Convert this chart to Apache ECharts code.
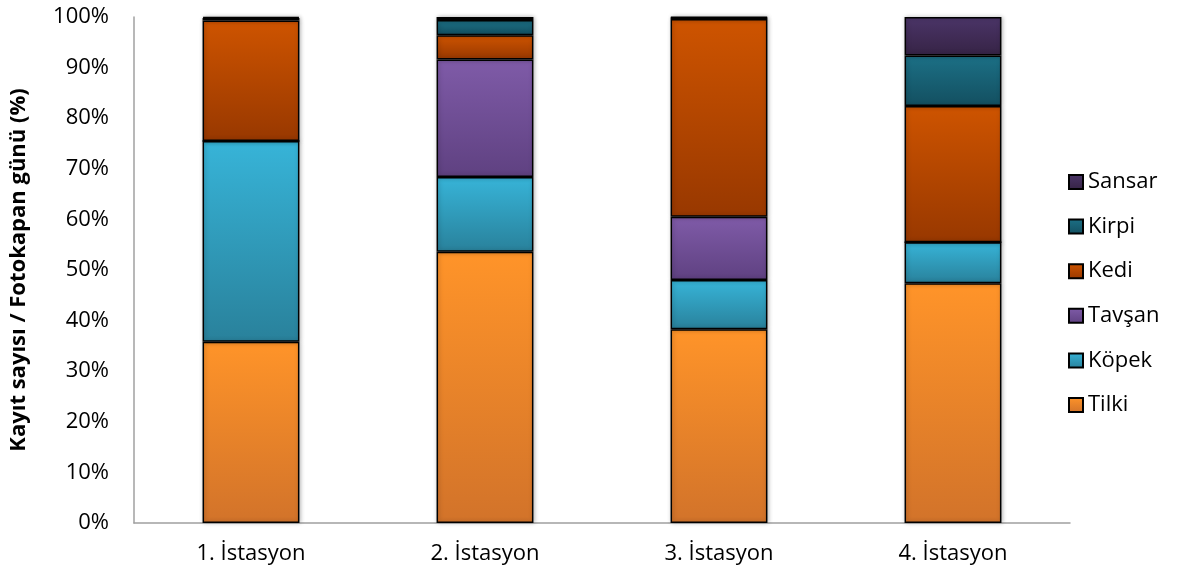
<!DOCTYPE html>
<html>
<head>
<meta charset="utf-8">
<script src="https://cdn.jsdelivr.net/npm/echarts@6/dist/echarts.min.js"></script>
<style>
html,body{margin:0;padding:0;background:#fff;}
#chart{width:1177px;height:577px;}
</style>
</head>
<body>
<div id="chart"></div>
<script>
const categories = ['1. İstasyon', '2. İstasyon', '3. İstasyon', '4. İstasyon'];
const yTickLabels = ['0%','10%','20%','30%','40%','50%','60%','70%','80%','90%','100%'];
const tilki  = [35.8, 53.6, 38.3, 47.4];
const kopek  = [39.7, 14.8,  9.7,  8.1];
const tavsan = [ 0.0, 23.2, 12.5,  0.0];
const kedi   = [23.8,  4.8, 39.1, 26.9];
const kirpi  = [ 0.5,  3.0,  0.3, 10.0];
const sansar = [ 0.2,  0.6,  0.1,  7.6];

const seriesNames = ['Tilki','Köpek','Tavşan','Kedi','Kirpi','Sansar'];
const seriesData = [tilki, kopek, tavsan, kedi, kirpi, sansar];
const gradients = [
  ['#FF9429', '#D2732A'],
  ['#37B4D8', '#29819B'],
  ['#7F5BA8', '#5F4181'],
  ['#CE5400', '#983800'],
  ['#1C7086', '#134F60'],
  ['#4B3568', '#362345']
];

const chart = echarts.init(document.getElementById('chart'));
const FONT = '"Open Sans", Lato, sans-serif';

chart.setOption({
  animation: false,
  backgroundColor: '#ffffff',
  grid: { left: 132, right: 107, top: 17, bottom: 54 },
  legend: {
    orient: 'vertical',
    left: 1063,
    top: 166,
    icon: 'rect',
    itemWidth: 14,
    itemHeight: 14,
    itemGap: 22.6,
    data: ['Sansar','Kirpi','Kedi','Tavşan','Köpek','Tilki'],
    textStyle: { fontFamily: FONT, fontSize: 22, color: '#000', lineHeight: 22 }
  },
  xAxis: {
    type: 'category',
    data: categories,
    axisTick: { show: false },
    axisLine: { lineStyle: { color: '#A0A0A0', width: 1.5 } },
    axisLabel: { fontFamily: FONT, fontSize: 22, color: '#000', margin: 20 }
  },
  yAxis: {
    type: 'value',
    min: 0, max: 100, interval: 10,
    name: 'Kayıt sayısı / Fotokapan günü (%)',
    nameLocation: 'middle',
    nameGap: 104,
    nameRotate: 90,
    nameTextStyle: { fontFamily: FONT, fontSize: 22, fontWeight: 'bold', color: '#000' },
    splitLine: { show: false },
    axisTick: { show: false },
    axisLine: { show: true, lineStyle: { color: '#A0A0A0', width: 1.5 } },
    axisLabel: {
      fontFamily: FONT, fontSize: 22, color: '#000', margin: 25,
      formatter: function (v) { return yTickLabels[Math.round(v / 10)]; }
    }
  },
  series: seriesNames.map(function (name, i) {
    return {
      name: name,
      type: 'bar',
      stack: 'total',
      barWidth: '41.4%',
      data: seriesData[i],
      itemStyle: {
        color: {
          type: 'linear', x: 0, y: 0, x2: 0, y2: 1,
          colorStops: [
            { offset: 0, color: gradients[i][0] },
            { offset: 1, color: gradients[i][1] }
          ]
        },
        borderColor: '#000',
        borderWidth: 1.5,
        shadowBlur: 4,
        shadowColor: 'rgba(0,0,0,0.25)',
        shadowOffsetX: 1
      }
    };
  })
});
</script>
</body>
</html>
